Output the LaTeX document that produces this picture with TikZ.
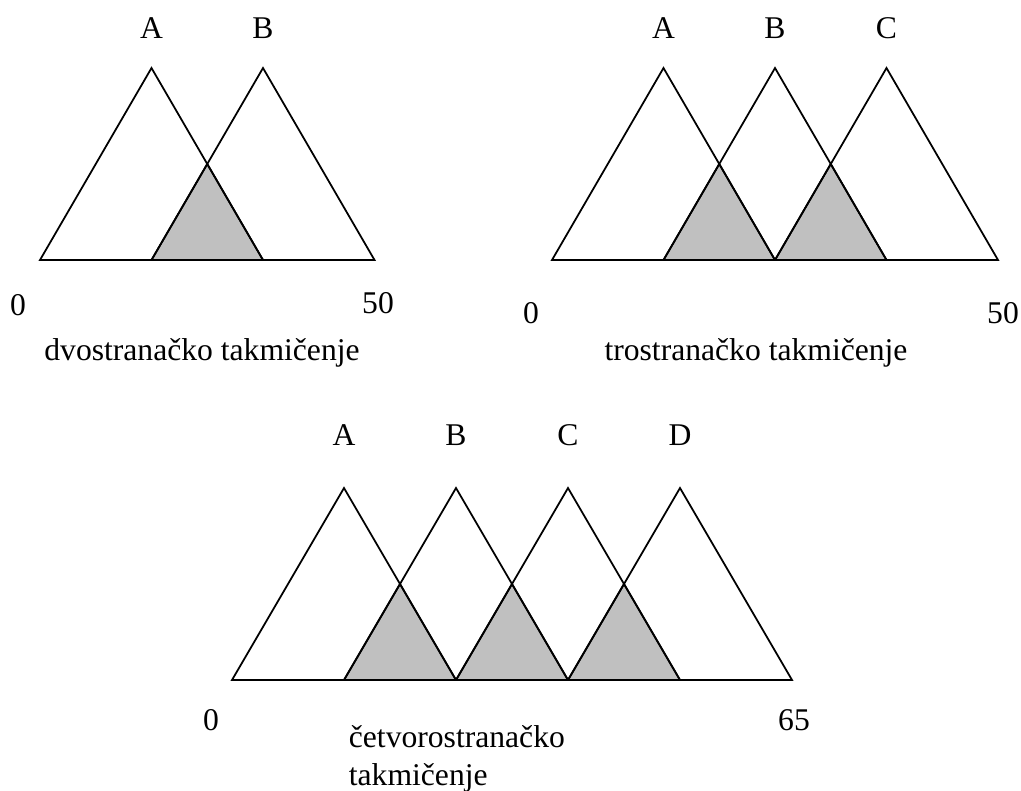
\documentclass[tikz,border=0pt]{standalone}
\usepackage{fontspec}
\setmainfont{Liberation Serif}
\usetikzlibrary{math}
\definecolor{shadegray}{RGB}{192,192,192}

\begin{document}
\begin{tikzpicture}[x=0.02cm,y=-0.02cm,line width=1pt,
  font=\fontsize{18}{21.6}\selectfont,
  every node/.style={inner sep=0pt},
  peak/.style={draw=black},
  overlap/.style={fill=shadegray,draw=black}]
\tikzmath{
\s=111.5;
\h=192;
}
\useasboundingbox (0,0) rectangle (1021,791);

% dvostranacko
\foreach \k in {0}
  \filldraw[overlap] (40+\k*\s+\s,260) -- (40+\k*\s+1.5*\s,260-\h/2) -- (40+\k*\s+2*\s,260) -- cycle;
\foreach \k in {0,1}
  \draw[peak] (40+\k*\s,260) -- (40+\k*\s+\s,260-\h) -- (40+\k*\s+2*\s,260) -- cycle;
\foreach \p [count=\k] in {A,B}
  \node (two\p) at (40+\k*\s,28) {\p};
\node (twoMin) at (18,305) {0};
\node (twoMax) at (378,303) {50};
\node (twoCap) at (202,353) {dvostranačko takmičenje};

% trostranacko
\foreach \k in {0,1}
  \filldraw[overlap] (552+\k*\s+\s,260) -- (552+\k*\s+1.5*\s,260-\h/2) -- (552+\k*\s+2*\s,260) -- cycle;
\foreach \k in {0,1,2}
  \draw[peak] (552+\k*\s,260) -- (552+\k*\s+\s,260-\h) -- (552+\k*\s+2*\s,260) -- cycle;
\foreach \p [count=\k] in {A,B,C}
  \node (three\p) at (552+\k*\s,28) {\p};
\node (threeMin) at (531,313) {0};
\node (threeMax) at (1003,313) {50};
\node (threeCap) at (756,353) {trostranačko takmičenje};

% cetvorostranacko
\foreach \k in {0,1,2}
  \filldraw[overlap] (232+\k*112+112,680) -- (232+\k*112+168,680-\h/2) -- (232+\k*112+224,680) -- cycle;
\foreach \k in {0,...,3}
  \draw[peak] (232+\k*112,680) -- (232+\k*112+112,680-\h) -- (232+\k*112+224,680) -- cycle;
\foreach \p [count=\k] in {A,B,C,D}
  \node (four\p) at (232+\k*112,435) {\p};
\node (fourMin) at (211,720) {0};
\node (fourMax) at (794,720) {65};
\node[anchor=west,align=left] (fourCap) at (348,759) {četvorostranačko\\takmičenje};

\end{tikzpicture}
\end{document}
